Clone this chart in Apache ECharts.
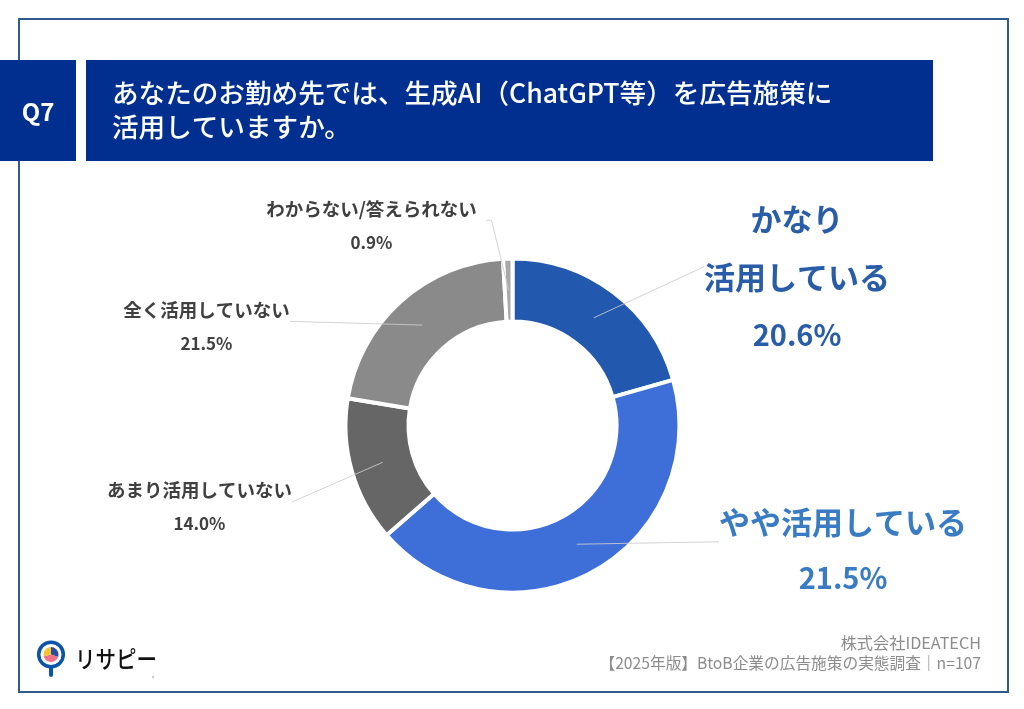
<!DOCTYPE html>
<html lang="ja">
<head>
<meta charset="utf-8">
<title>Q7</title>
<script src="https://cdn.jsdelivr.net/npm/echarts@6/dist/echarts.min.js"></script>
<style>
  html, body { margin: 0; padding: 0; background: #fff; }
  #chart { width: 1024px; height: 709px; }
</style>
</head>
<body>
<div id="chart"></div>
<script>
  const FONT = '"Noto Sans CJK JP", "Noto Sans", sans-serif';

  const categories = ['かなり活用している', 'やや活用している', 'あまり活用していない', '全く活用していない', 'わからない/答えられない'];
  // arc sizes as drawn; the second slice is drawn at about 43% although its label reads 21.5%
  const sliceValues = [20.6, 43.0, 14.0, 21.5, 0.9];
  const valueLabels = ['20.6%', '21.5%', '14.0%', '21.5%', '0.9%'];
  const labelNames = [['かなり', '活用している'], ['やや活用している'], ['あまり活用していない'], ['全く活用していない'], ['わからない/答えられない']];
  const sliceColors = ['#2258ae', '#3e6fd8', '#666666', '#8a8a8a', '#a8a8a8'];

  const titleLines = ['あなたのお勤め先では、生成AI（ChatGPT等）を広告施策に', '活用していますか。'];
  const footerLines = ['株式会社IDEATECH', '【2025年版】BtoB企業の広告施策の実態調査｜n=107'];

  // label box placement: center x, center y, height of the blank top row (moves the
  // point where the leader line lands), box width, elbow length
  const labelSpots = [
    { x: 797, y: 271.5, top: 11, width: 0, elbow: 0 },
    { x: 843, y: 547.5, top: 5, width: 0, elbow: 0 },
    { x: 199.5, y: 506, top: 2, width: 0, elbow: 0 },
    { x: 206.5, y: 324.75, top: 4.5, width: 0, elbow: 0 },
    { x: 371.5, y: 224, top: 3, width: 230, elbow: 5 }
  ];

  const CENTER = [512.5, 425.5];

  function labelRich(i) {
    const big = i < 2;
    const color = i === 0 ? '#2a5da8' : i === 1 ? '#3a7cc4' : '#404040';
    const height = i === 0 ? 58 : i === 1 ? 56 : 34;
    const spot = labelSpots[i];
    const blank = { fontSize: 1, lineHeight: spot.top, align: 'center' };
    if (spot.width) blank.width = spot.width;
    return {
      s: blank,
      n: { fontFamily: FONT, fontWeight: 'bold', color: color, fontSize: big ? 31 : 18.5, lineHeight: height, align: 'center' },
      v: { fontFamily: FONT, fontWeight: 'bold', color: color, fontSize: big ? 29 : 17, lineHeight: height, align: 'center' }
    };
  }

  const chart = echarts.init(document.getElementById('chart'), null, { renderer: 'canvas' });

  chart.setOption({
    animation: false,
    backgroundColor: '#ffffff',
    series: [
      {
        type: 'pie',
        silent: true,
        center: CENTER,
        radius: [104, 167],
        startAngle: 90,
        clockwise: true,
        label: { show: false },
        labelLine: { show: false },
        itemStyle: { borderColor: '#ffffff', borderWidth: 4 },
        data: categories.map((name, i) => ({
          name: name,
          value: sliceValues[i],
          itemStyle: { color: sliceColors[i] }
        }))
      },
      {
        // invisible copy: its leader lines start mid-ring like the reference
        type: 'pie',
        silent: true,
        center: CENTER,
        radius: [0, 135],
        startAngle: 90,
        z: 5,
        itemStyle: { color: 'transparent' },
        labelLayout: function (params) {
          const spot = labelSpots[params.dataIndex];
          return { x: spot.x, y: spot.y, align: 'center', verticalAlign: 'middle', hideOverlap: false };
        },
        data: categories.map((name, i) => ({
          name: name,
          value: sliceValues[i],
          label: {
            show: true,
            position: 'outside',
            formatter: '{s| }\n' + labelNames[i].map(t => '{n|' + t + '}').join('\n') + '\n{v|' + valueLabels[i] + '}',
            align: 'center',
            rich: labelRich(i)
          },
          labelLine: {
            show: true,
            length: 0,
            length2: labelSpots[i].elbow,
            smooth: false,
            lineStyle: { color: 'rgba(205,205,205,0.85)', width: 1 }
          }
        }))
      }
    ],
    graphic: [
      // outer frame
      { type: 'rect', shape: { x: 19, y: 19, width: 989, height: 673 }, style: { fill: 'none', stroke: '#2f5a8e', lineWidth: 2 }, z: 0 },
      // header
      { type: 'rect', shape: { x: 0, y: 60, width: 76, height: 101 }, style: { fill: '#002f8f' }, z: 1 },
      { type: 'rect', shape: { x: 86, y: 60, width: 847, height: 101 }, style: { fill: '#002f8f' }, z: 1 },
      { type: 'text', x: 38, y: 112, z: 2, style: { text: 'Q7', fill: '#fff', font: 'bold 24px ' + FONT, textAlign: 'center', textVerticalAlign: 'middle' } },
      { type: 'text', x: 112, y: 93, z: 2, style: { text: titleLines[0], fill: '#fff', font: '500 26.6px ' + FONT, textVerticalAlign: 'middle' } },
      { type: 'text', x: 112, y: 127, z: 2, style: { text: titleLines[1], fill: '#fff', font: '500 26.6px ' + FONT, textVerticalAlign: 'middle' } },
      // footer
      { type: 'text', x: 981, y: 643, z: 2, style: { text: footerLines[0], fill: '#8c8c8c', font: '16.2px ' + FONT, textAlign: 'right', textVerticalAlign: 'middle' } },
      { type: 'text', x: 981, y: 663, z: 2, style: { text: footerLines[1], fill: '#8c8c8c', font: '15.7px ' + FONT, textAlign: 'right', textVerticalAlign: 'middle' } },
      // logo
      { type: 'line', shape: { x1: 51, y1: 668, x2: 51, y2: 675 }, style: { stroke: '#0b55a8', lineWidth: 4, lineCap: 'round' }, z: 2 },
      { type: 'circle', shape: { cx: 51, cy: 654.5, r: 12.3 }, style: { fill: '#fff', stroke: '#0b55a8', lineWidth: 3.5 }, z: 2 },
      { type: 'sector', shape: { cx: 51, cy: 654.5, r: 7.5, r0: 0, startAngle: -Math.PI / 2, endAngle: 0.35 }, style: { fill: '#2a4fa0' }, z: 3 },
      { type: 'sector', shape: { cx: 51, cy: 654.5, r: 7.5, r0: 0, startAngle: 0.35, endAngle: 2.9 }, style: { fill: '#f0708a' }, z: 3 },
      { type: 'sector', shape: { cx: 51, cy: 654.5, r: 7.5, r0: 0, startAngle: 2.9, endAngle: 1.5 * Math.PI }, style: { fill: '#f7c52e' }, z: 3 },
      { type: 'text', x: 75, y: 659, scaleY: 1.15, originY: 0, z: 2, style: { text: 'リサピー', fill: '#111', font: '500 20.5px ' + FONT, textVerticalAlign: 'middle' } },
      { type: 'text', x: 152, y: 678, z: 2, style: { text: '®', fill: '#999', font: '5px ' + FONT, textVerticalAlign: 'middle' } }
    ]
  });
</script>
</body>
</html>
